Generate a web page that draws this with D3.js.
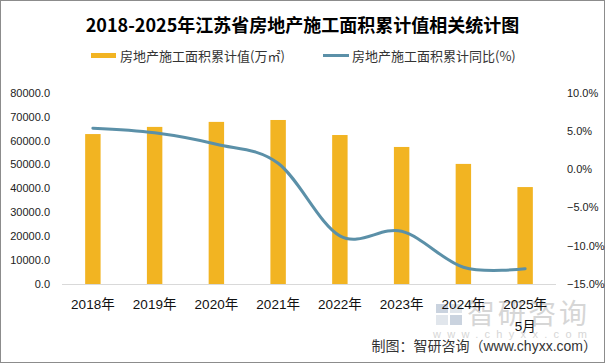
<!DOCTYPE html>
<html><head><meta charset="utf-8">
<script src="https://cdn.jsdelivr.net/npm/d3@7/dist/d3.min.js"></script>
<style>
body{margin:0;background:#fff;}
svg{display:block;}
</style></head>
<body>
<svg id="chart" width="605" height="363"></svg>
<script>
const categories = ["2018年","2019年","2020年","2021年","2022年","2023年","2024年","2025年"];
const catSecondLine = ["","","","","","","","5月"];
const areaValues = [62800, 65800, 67900, 68700, 62400, 57400, 50300, 40600];
const growthValues = [5.4, 4.8, 3.3, 0.8, -8.7, -8.1, -12.8, -13.0];
const leftTicks = [0,10000,20000,30000,40000,50000,60000,70000,80000];
const rightTicks = [-15,-10,-5,0,5,10];
const titleText = "2018-2025年江苏省房地产施工面积累计值相关统计图";
const legendBar = "房地产施工面积累计值(万㎡)";
const legendLine = "房地产施工面积累计同比(%)";
const sourceText = "制图：智研咨询（www.chyxx.com）";

const barColor = "#F2B422", lineColor = "#5B90A8";
const svg = d3.select("#chart");
const cjk = "'Liberation Sans','Noto Sans CJK SC',sans-serif";

svg.append("rect").attr("x",0.5).attr("y",0.5).attr("width",604).attr("height",362)
  .attr("fill","#fff").attr("stroke","#8c8c8c");

const x = d3.scaleBand().domain(categories).range([62,556]).padding(0);
const yL = d3.scaleLinear().domain([0,80000]).range([284,93]);
const yR = d3.scaleLinear().domain([-15,10]).range([284,93]);
const bw = x.bandwidth()*0.25;

// title
svg.append("text").attr("x",302.5).attr("y",32).attr("text-anchor","middle")
  .attr("font-family","'Noto Sans CJK SC',sans-serif").attr("font-weight","bold")
  .attr("font-size",18).attr("fill","#000").text(titleText);

// legend
svg.append("rect").attr("x",91).attr("y",53).attr("width",25).attr("height",5).attr("fill",barColor);
svg.append("text").attr("x",120).attr("y",60.5).attr("font-family","'Noto Sans CJK SC',sans-serif")
  .attr("font-size",13).attr("fill","#333").text(legendBar);
svg.append("line").attr("x1",323).attr("x2",349).attr("y1",55.5).attr("y2",55.5)
  .attr("stroke",lineColor).attr("stroke-width",3);
svg.append("text").attr("x",352).attr("y",60.5).attr("font-family","'Noto Sans CJK SC',sans-serif")
  .attr("font-size",13).attr("fill","#333").text(legendLine);

// watermark
const wm = svg.append("g").attr("opacity",0.55);
wm.append("rect").attr("x",436).attr("y",304).attr("width",12).attr("height",9).attr("fill","#9fb0c6");
wm.append("rect").attr("x",450).attr("y",304).attr("width",12).attr("height",9).attr("fill","#c9d2de");
wm.append("rect").attr("x",436).attr("y",315).attr("width",12).attr("height",10).attr("fill","#c9d2de");
wm.append("rect").attr("x",450).attr("y",315).attr("width",12).attr("height",10).attr("fill","#9fb0c6");
wm.append("text").attr("x",467).attr("y",324).attr("font-family","'Noto Sans CJK SC',sans-serif")
  .attr("font-size",28).attr("fill","#b5b5b5").attr("textLength",120).text("智研咨询");
wm.append("text").attr("x",433).attr("y",338).attr("font-family","'Liberation Sans',sans-serif")
  .attr("font-size",11).attr("fill","#b5b5b5").attr("textLength",154).text("www.chyxx.com");

// axis baseline
svg.append("line").attr("x1",62).attr("x2",556).attr("y1",284.5).attr("y2",284.5)
  .attr("stroke","#d9d9d9").attr("stroke-width",1);

// bars
svg.append("g").selectAll("rect").data(areaValues).join("rect")
  .attr("x",(d,i)=>x(categories[i])+x.bandwidth()*0.375)
  .attr("width",bw)
  .attr("y",d=>yL(d)).attr("height",d=>yL(0)-yL(d))
  .attr("fill",barColor);

// line
const line = d3.line()
  .x((d,i)=>x(categories[i])+x.bandwidth()/2)
  .y(d=>yR(d)).curve(d3.curveCardinal.tension(0));
svg.append("path").attr("d",line(growthValues)).attr("fill","none")
  .attr("stroke",lineColor).attr("stroke-width",3).attr("stroke-linecap","round");

// left axis
const gL = svg.append("g").attr("transform","translate(50,0)")
  .call(d3.axisLeft(yL).tickValues(leftTicks).tickSize(0).tickPadding(0).tickFormat(d=>d3.format(".1f")(d)));
gL.select(".domain").remove();
gL.selectAll("text").attr("font-family","'Liberation Sans',sans-serif").attr("font-size",11).attr("fill","#222").attr("dy","0.3em");

// right axis
const gR = svg.append("g").attr("transform","translate(567,0)")
  .call(d3.axisRight(yR).tickValues(rightTicks).tickSize(0).tickPadding(0).tickFormat(d=>d3.format(".1f")(d)+"%"));
gR.select(".domain").remove();
gR.selectAll("text").attr("font-family","'Liberation Sans',sans-serif").attr("font-size",11).attr("fill","#222").attr("dy","0.3em");

// bottom axis
const gB = svg.append("g").attr("transform","translate(0,284)")
  .call(d3.axisBottom(x).tickSize(0).tickPadding(0));
gB.select(".domain").remove();
gB.selectAll("text").remove();
gB.selectAll(".tick").each(function(d,i){
  const t = d3.select(this).append("text").attr("text-anchor","middle")
    .attr("font-family",cjk).attr("font-size",13.5).attr("fill","#111");
  t.append("tspan").attr("x",0).attr("y",25).text(d);
  if (catSecondLine[i]) t.append("tspan").attr("x",0).attr("y",47).text(catSecondLine[i]);
});

// source
svg.append("text").attr("x",597).attr("y",351).attr("text-anchor","end")
  .attr("font-family",cjk).attr("font-size",14).attr("fill","#333").text(sourceText);
</script>
</body></html>
